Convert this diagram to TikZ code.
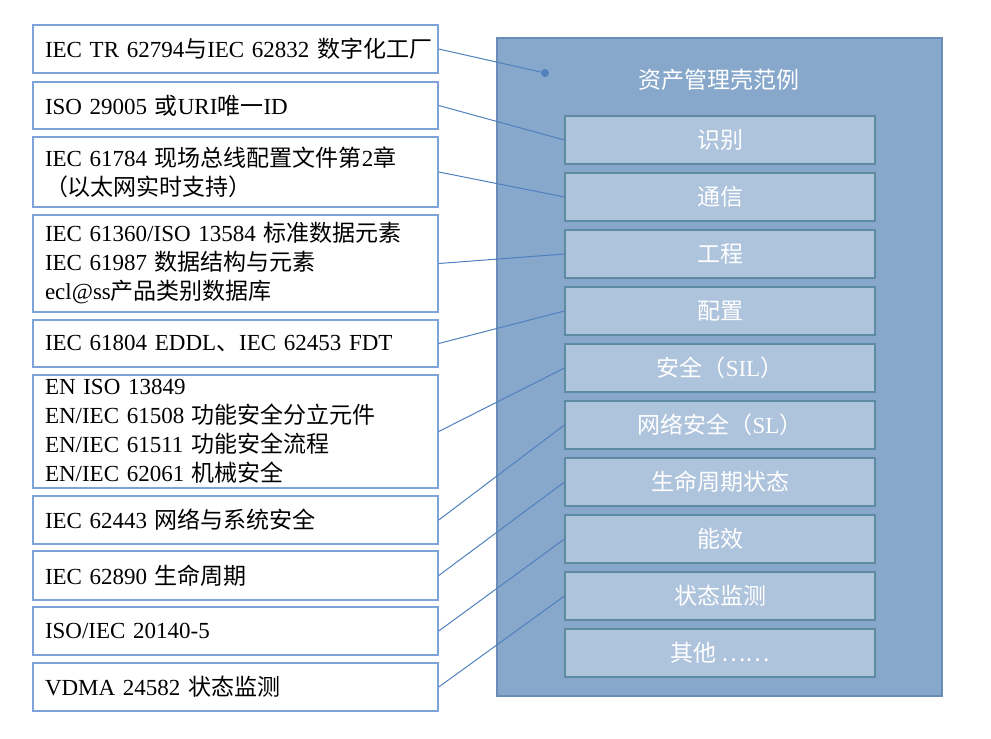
\documentclass[tikz,border=0pt]{standalone}
\usepackage{fontspec}
\setmainfont{Liberation Serif}
\newfontfamily\cjk{Noto Sans CJK SC}
\usepackage{tikz}
\usepackage{xcolor}

\definecolor{boxline}{RGB}{125,163,216}
\definecolor{linkline}{RGB}{80,128,190}
\definecolor{shellfill}{RGB}{135,168,203}
\definecolor{shellline}{RGB}{105,140,185}
\definecolor{partfill}{RGB}{174,195,220}
\definecolor{partline}{RGB}{92,140,162}

\begin{document}
\begin{tikzpicture}[x=0.5pt,y=-0.5pt,
  leftbox/.style={draw=boxline, line width=0.75pt, fill=white, minimum width=202.5pt, text width=190.5pt, inner xsep=6pt, inner ysep=0.5pt, align=left, font=\fontsize{11.5pt}{14.5pt}\selectfont},
  partbox/.style={draw=partline, line width=0.6pt, fill=partfill, minimum width=155pt, minimum height=24pt, text=white, font=\fontsize{11.5pt}{14pt}\selectfont\cjk},
  link/.style={linkline, line width=0.5pt}]

\useasboundingbox (0,0) rectangle (991,739);

% asset administration shell
\node[draw=shellline, line width=0.6pt, fill=shellfill, minimum width=222.5pt, minimum height=329pt] (shell) at (719.5,367) {};
\node[text=white, font=\fontsize{11.5pt}{14pt}\selectfont\cjk] (title) at (719,80) {资产管理壳范例};
\fill[linkline] (545,73) circle (2pt);
\coordinate (dot) at (545,73);

\foreach \lbl [count=\i] in {识别, 通信, 工程, 配置, {安全（\textrm{SIL}）}, {网络安全（\textrm{SL}）}, 生命周期状态, 能效, 状态监测, 其他 ……}
  \node[partbox] (r\i) at (720,{140+57*(\i-1)}) {\lbl};

% standards
\node[leftbox, minimum height=24pt] (l1) at (235.5,49) {\mbox{IEC TR 62794{\cjk 与}IEC 62832 {\cjk 数字化工厂}}};
\node[leftbox, minimum height=23.5pt] (l2) at (235.5,105.5) {ISO 29005 {\cjk 或}URI{\cjk 唯一}ID};
\node[leftbox, minimum height=35pt] (l3) at (235.5,172) {IEC 61784 {\cjk 现场总线配置文件第}2{\cjk 章}\\{\cjk （以太网实时支持）}};
\node[leftbox, minimum height=48.5pt] (l4) at (235.5,263.5) {IEC 61360/ISO 13584 {\cjk 标准数据元素}\\IEC 61987 {\cjk 数据结构与元素}\\ecl@ss{\cjk 产品类别数据库}};
\node[leftbox, minimum height=23.5pt] (l5) at (235.5,343.5) {IEC 61804 EDDL{\cjk 、}IEC 62453 FDT};
\node[leftbox, minimum height=56.5pt] (l6) at (235.5,431.5) {EN ISO 13849\\EN/IEC 61508 {\cjk 功能安全分立元件}\\EN/IEC 61511 {\cjk 功能安全流程}\\EN/IEC 62061 {\cjk 机械安全}};
\node[leftbox, minimum height=24pt] (l7) at (235.5,520) {IEC 62443 {\cjk 网络与系统安全}};
\node[leftbox, minimum height=24.5pt] (l8) at (235.5,575.5) {IEC 62890 {\cjk 生命周期}};
\node[leftbox, minimum height=24pt] (l9) at (235.5,631) {ISO/IEC 20140-5};
\node[leftbox, minimum height=24pt] (l10) at (235.5,687) {VDMA 24582 {\cjk 状态监测}};

% links
\draw[link] (l1.east) -- (dot);
\foreach \i/\j in {2/1,3/2,4/3,5/4,6/5,7/6,8/7,9/8,10/9}
  \draw[link] (l\i.east) -- (r\j.west);

\end{tikzpicture}
\end{document}
